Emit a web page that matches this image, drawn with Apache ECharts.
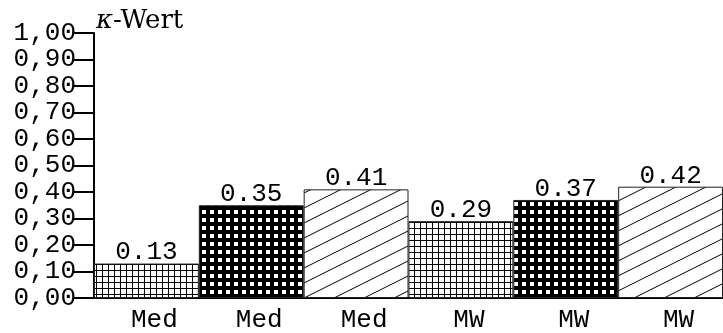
<!DOCTYPE html>
<html>
<head>
<meta charset="utf-8">
<script src="https://cdn.jsdelivr.net/npm/echarts@6/dist/echarts.min.js"></script>
<style>
html,body{margin:0;padding:0;background:#fff;}
#chart{width:723px;height:333px;}
</style>
</head>
<body>
<div id="chart"></div>
<script>
const categories = ['Med', 'Med', 'Med', 'MW', 'MW', 'MW'];
const values = [0.13, 0.35, 0.41, 0.29, 0.37, 0.42];
const patternKinds = ['grid', 'dots', 'diag', 'grid', 'dots', 'diag'];
const yTicks = { min: 0, max: 1, interval: 0.1 };
const axisTitleSymbol = 'κ';
const axisTitleRest = '-Wert';

function makeTile(kind) {
  const c = document.createElement('canvas');
  let ctx;
  if (kind === 'grid') {
    c.width = 6; c.height = 6;
    ctx = c.getContext('2d');
    ctx.fillStyle = '#fff'; ctx.fillRect(0, 0, 6, 6);
    ctx.fillStyle = '#000';
    ctx.fillRect(0, 0, 6, 1);
    ctx.fillRect(0, 0, 1, 6);
  } else if (kind === 'dots') {
    c.width = 8; c.height = 8;
    ctx = c.getContext('2d');
    ctx.fillStyle = '#000'; ctx.fillRect(0, 0, 8, 8);
    ctx.fillStyle = '#fff';
    ctx.fillRect(2, 2, 4, 4);
  } else {
    c.width = 30; c.height = 15;
    ctx = c.getContext('2d');
    ctx.fillStyle = '#fff'; ctx.fillRect(0, 0, 30, 15);
    ctx.strokeStyle = '#000'; ctx.lineWidth = 1;
    ctx.beginPath();
    ctx.moveTo(-30, 30); ctx.lineTo(60, -15);
    ctx.moveTo(-30, 45); ctx.lineTo(60, 0);
    ctx.moveTo(-30, 15); ctx.lineTo(60, -30);
    ctx.stroke();
  }
  return c;
}

const data = values.map((v, i) => ({
  value: v,
  itemStyle: { color: { image: makeTile(patternKinds[i]), repeat: 'repeat' } }
}));

const mono = 'Liberation Mono';
const chart = echarts.init(document.getElementById('chart'), null, { renderer: 'canvas' });
chart.setOption({
  animation: false,
  backgroundColor: '#fff',
  grid: { left: 94, top: 33, bottom: 33, width: 636, containLabel: false },
  graphic: [{
    type: 'text',
    left: 96,
    top: 8,
    style: {
      text: '{k|' + axisTitleSymbol + '}{r|' + axisTitleRest + '}',
      rich: {
        k: { fontFamily: 'DejaVu Serif', fontSize: 26, fontStyle: 'italic', fill: '#000' },
        r: { fontFamily: 'DejaVu Serif', fontSize: 26, fill: '#000' }
      },
      fill: '#000'
    }
  }],
  xAxis: {
    type: 'category',
    data: categories,
    axisLine: { show: true, lineStyle: { color: '#000', width: 2 } },
    axisTick: { show: false },
    axisLabel: {
      color: '#000', fontFamily: mono, fontSize: 26, margin: 9,
      padding: [0, 0, 0, 16], interval: 0
    },
    splitLine: { show: false }
  },
  yAxis: {
    type: 'value',
    min: yTicks.min, max: yTicks.max, interval: yTicks.interval,
    axisLine: { show: true, lineStyle: { color: '#000', width: 2 } },
    axisTick: { show: true, inside: false, length: 20, lineStyle: { color: '#000', width: 2 } },
    axisLabel: {
      color: '#000', fontFamily: mono, fontSize: 26, margin: 18,
      formatter: v => v.toFixed(2).replace('.', ',')
    },
    splitLine: { show: false }
  },
  series: [{
    type: 'bar',
    data: data,
    barCategoryGap: '0%',
    barWidth: '100%',
    itemStyle: { borderColor: '#222', borderWidth: 1 },
    label: {
      show: true, position: 'top', distance: -2,
      color: '#000', fontFamily: mono, fontSize: 26,
      formatter: p => p.value.toFixed(2)
    }
  }]
});
</script>
</body>
</html>
